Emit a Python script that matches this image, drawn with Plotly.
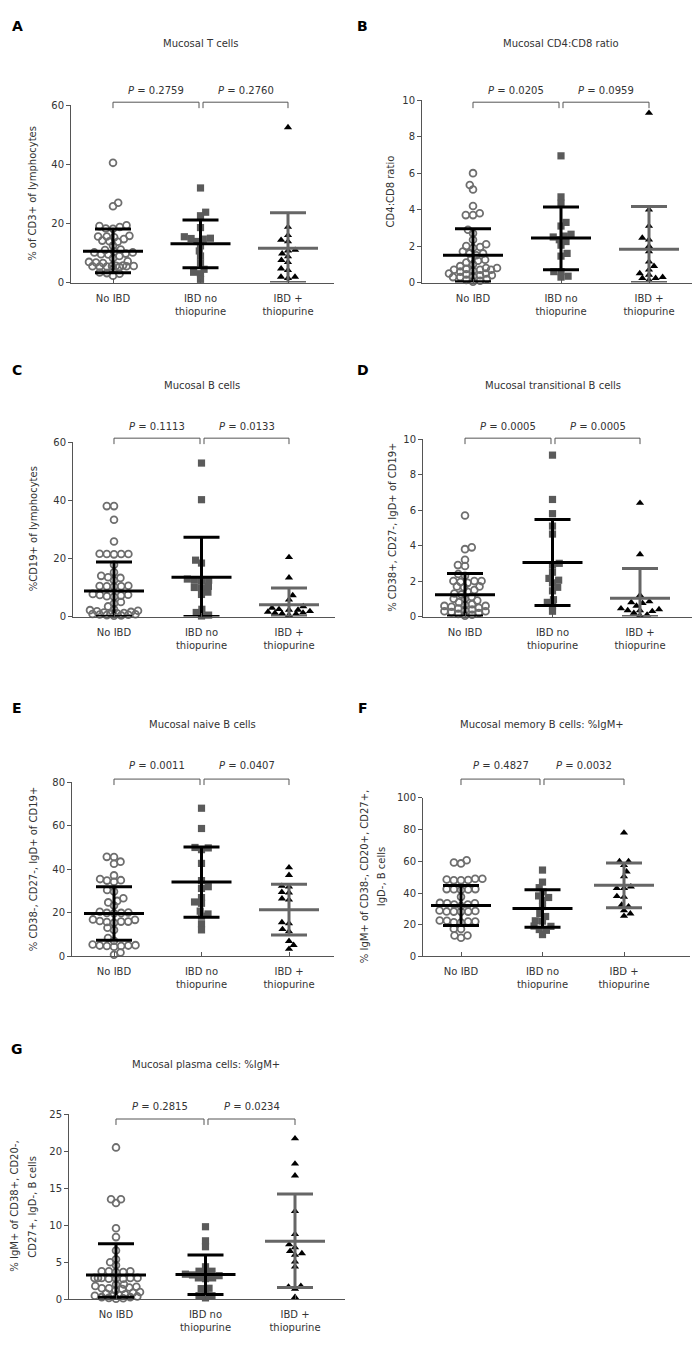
import math
import plotly.graph_objects as go

# ---------------- DATA ----------------
group_labels = ["No IBD", "IBD no<br>thiopurine", "IBD +<br>thiopurine"]

# A: Mucosal T cells (% of CD3+ of lymphocytes)
A_no_ibd = [40.5, 27, 25.8, 19.4, 18.8, 18.3, 18.2, 19.1, 15.8, 15.6, 14.7, 14, 13.8, 14.2, 15.3, 15.6,
            12.5, 11, 10.5, 10.2, 9.8, 9.6, 10.2, 9.5, 11.2, 8.2, 9, 7.2, 6.8, 6.6, 7, 5.8, 5.6, 5.5, 5.4,
            5.3, 5.4, 5.5, 5.6, 5.7, 4.5, 3.4, 3, 2.3, 3.2]
A_ibd_no_thio = [32, 23.8, 22.6, 18.6, 15.5, 15, 14.7, 14.9, 13.9, 12.4, 10.7, 9, 6.7, 4.5, 3.5, 3, 1.1]
A_ibd_thio = [52.5, 18.8, 16, 14.4, 13.9, 11, 10.8, 9.8, 8.8, 7.6, 6.9, 4.7, 4.2, 1.9, 1.5, 1.9]
A_mean = [10.6, 13.1, 11.6]
A_hi = [18.1, 21.2, 23.6]
A_lo = [3.3, 5.0, 0.0]
A_p = ["0.2759", "0.2760"]

# B: Mucosal CD4:CD8 ratio
B_no_ibd = [6.0, 5.35, 5.1, 4.2, 3.8, 3.7, 3.7, 2.9, 2.7, 2.35, 2.1, 2.0, 1.95, 1.9, 1.7, 1.6, 1.6, 1.5,
            1.3, 1.2, 1.25, 1.1, 1.0, 0.9, 0.8, 0.7, 0.7, 0.75, 0.65, 0.7, 0.8, 0.6, 0.5, 0.45, 0.4, 0.35,
            0.3, 0.3, 0.2, 0.15, 0.1, 0.05, 0.4, 0.5]
B_ibd_no_thio = [6.95, 4.7, 4.35, 3.3, 3.1, 2.65, 2.5, 2.55, 2.25, 2.35, 2.05, 1.6, 1.45, 0.6, 0.6, 0.3, 0.35]
B_ibd_thio = [9.3, 4.0, 3.1, 2.45, 2.35, 2.0, 1.7, 1.15, 0.9, 0.7, 0.42, 0.24, 0.13, 0.24, 0.3, 0.5]
B_mean = [1.5, 2.45, 1.83]
B_hi = [2.95, 4.15, 4.17]
B_lo = [0.05, 0.7, 0.0]
B_p = ["0.0205", "0.0959"]

# C: Mucosal B cells (%CD19+ of lymphocytes)
C_no_ibd = [38, 38, 33.3, 25.8, 21.5, 21.5, 21.5, 21.6, 21.4, 17.8, 15.2, 14, 13.3, 13.5, 12.5, 10.5,
            10.4, 10.3, 10.6, 10.4, 7.8, 7.5, 7.2, 7, 6.8, 7.4, 5, 4.5, 3.5, 2.5, 2.2, 2.0, 1.8, 1.6, 1.4,
            1.2, 1.1, 1.0, 0.9, 0.8, 0.7, 0.6, 0.5, 0.4, 0.3]
C_ibd_no_thio = [52.8, 40.2, 19.4, 18.4, 12.9, 12.5, 12.3, 12.5, 10.4, 10, 9.9, 8.4, 7.6, 2.5, 1.4, 0.5, 0.2]
C_ibd_thio = [20.4, 13.4, 7.3, 5.8, 3.5, 3.0, 2.5, 2.3, 1.6, 1.2, 0.9, 1.0, 1.3, 1.8, 2.3, 0.5]
C_mean = [8.75, 13.5, 4.1]
C_hi = [18.75, 27.3, 9.8]
C_lo = [0.0, 0.0, 0.0]
C_p = ["0.1113", "0.0133"]

# D: Mucosal transitional B cells
D_no_ibd = [5.7, 3.9, 3.8, 3.2, 2.9, 2.85, 2.4, 2.3, 2.0, 2.0, 1.95, 2.0, 1.9, 1.7, 1.65, 1.7, 1.5, 1.4,
            1.3, 1.25, 1.1, 1.0, 1.0, 0.9, 0.8, 0.7, 0.65, 0.6, 0.6, 0.55, 0.5, 0.45, 0.4, 0.35, 0.3,
            0.3, 0.25, 0.2, 0.15, 0.1, 0.05]
D_ibd_no_thio = [9.1, 6.6, 5.8, 5.1, 4.65, 3.0, 2.9, 2.5, 2.15, 2.05, 1.9, 1.65, 1.45, 0.95, 0.8, 0.6, 0.3]
D_ibd_thio = [6.4, 3.5, 1.2, 0.85, 0.8, 0.75, 0.6, 0.45, 0.35, 0.2, 0.1, 0.3, 0.4, 0.35, 0.05]
D_mean = [1.23, 3.05, 1.03]
D_hi = [2.43, 5.47, 2.71]
D_lo = [0.03, 0.63, 0.0]
D_p = ["0.0005", "0.0005"]

# E: Mucosal naive B cells
E_no_ibd = [45.6, 45.7, 43.5, 42.5, 37.2, 35.5, 35, 34.8, 34.3, 30.5, 29.8, 26.7, 25.5, 24.8, 23.4, 20.5,
            20, 20, 19.8, 20.2, 17, 16.8, 16, 15.5, 15.8, 16.3, 16, 13.2, 12.2, 8.5, 7.2, 5.5, 5, 4.8,
            4.5, 4.8, 5, 5.2, 1.8, 0.8]
E_ibd_no_thio = [68, 58.7, 50, 49, 49.8, 42.7, 34.8, 32, 31.2, 27, 25, 24.4, 20.8, 19.5, 15, 12.2, 18.5]
E_ibd_thio = [40.8, 37.3, 32.3, 32.0, 29.5, 29.3, 26.5, 26.0, 15.6, 15.2, 12.5, 11.5, 7.0, 5.2, 3.4]
E_mean = [19.75, 34.2, 21.4]
E_hi = [32.0, 50.2, 33.1]
E_lo = [7.5, 18.0, 9.8]
E_p = ["0.0011", "0.0407"]

# F: Mucosal memory B cells: %IgM+
F_no_ibd = [60.7, 59.3, 58.7, 48.2, 48, 49, 48.5, 49, 48, 42.5, 42, 42.4, 37.6, 42.5, 42.2, 33.8, 32.8,
            33.5, 31.8, 32.8, 33.5, 28.7, 28.3, 29, 28.3, 28.3, 28.4, 22.5, 22, 21.4, 22.7, 22, 21.6,
            17.5, 17.4, 13.2, 11.8, 13.2]
F_ibd_no_thio = [54.5, 46.9, 43.4, 40.7, 38.2, 37.2, 35.5, 31.5, 27.1, 25.2, 22.5, 22.3, 19, 19.2, 17, 16.5, 13.8]
F_ibd_thio = [78, 60, 60, 57.5, 53.5, 50.5, 44, 43, 43, 38, 37.5, 32.5, 31.5, 29, 27, 25.5]
F_mean = [32.2, 30.3, 45.0]
F_hi = [44.8, 42.1, 58.9]
F_lo = [19.6, 18.4, 30.8]
F_p = ["0.4827", "0.0032"]

# G: Mucosal plasma cells: %IgM+
G_no_ibd = [20.5, 13.5, 13.0, 13.5, 9.6, 8.4, 6.6, 5.4, 5.0, 4.6, 3.8, 3.7, 3.8, 3.7, 3.8, 2.9, 2.8, 2.9,
            2.8, 2.9, 2.8, 2.9, 2.9, 2.0, 1.7, 1.5, 1.4, 1.6, 1.5, 1.8, 2.0, 1.2, 1.0, 0.9, 0.8, 0.7, 0.6,
            0.5, 0.4, 0.3, 0.2, 0.15, 0.1, 0.5, 0.3]
G_ibd_no_thio = [9.8, 7.9, 7.1, 4.4, 3.8, 3.8, 3.5, 3.3, 3.4, 3.2, 2.9, 2.9, 2.8, 1.5, 1.45, 0.9, 0.5, 0.5, 0.2]
G_ibd_thio = [21.7, 18.3, 16.7, 11.9, 8.8, 7.4, 7.0, 6.5, 6.0, 6.2, 5.1, 4.4, 1.7, 1.8, 1.4, 0.3]
G_mean = [3.3, 3.35, 7.85]
G_hi = [7.5, 6.0, 14.2]
G_lo = [0.3, 0.66, 1.6]
G_p = ["0.2815", "0.0234"]

titles = ["Mucosal T cells", "Mucosal CD4:CD8 ratio", "Mucosal B cells", "Mucosal transitional B cells",
          "Mucosal naive B cells", "Mucosal memory B cells: %IgM+", "Mucosal plasma cells: %IgM+"]
y_titles = [["% of CD3+ of lymphocytes"], ["CD4:CD8 ratio"], ["%CD19+ of lymphocytes"],
            ["% CD38+, CD27-, IgD+ of CD19+"], ["% CD38-, CD27-, IgD+ of CD19+"],
            ["% IgM+ of CD38-, CD20+, CD27+,", "IgD-, B cells"],
            ["% IgM+ of CD38+, CD20-,", "CD27+, IgD-, B cells"]]
letters = ["A", "B", "C", "D", "E", "F", "G"]
y_max = [60, 10, 60, 10, 80, 100, 25]
y_dtick = [20, 2, 20, 2, 20, 20, 5]

data = [
    (A_no_ibd, A_ibd_no_thio, A_ibd_thio, A_mean, A_hi, A_lo, A_p),
    (B_no_ibd, B_ibd_no_thio, B_ibd_thio, B_mean, B_hi, B_lo, B_p),
    (C_no_ibd, C_ibd_no_thio, C_ibd_thio, C_mean, C_hi, C_lo, C_p),
    (D_no_ibd, D_ibd_no_thio, D_ibd_thio, D_mean, D_hi, D_lo, D_p),
    (E_no_ibd, E_ibd_no_thio, E_ibd_thio, E_mean, E_hi, E_lo, E_p),
    (F_no_ibd, F_ibd_no_thio, F_ibd_thio, F_mean, F_hi, F_lo, F_p),
    (G_no_ibd, G_ibd_no_thio, G_ibd_thio, G_mean, G_hi, G_lo, G_p),
]

# ---------------- LAYOUT (page pixels) ----------------
PAGE_W, PAGE_H = 700, 1348
OFF_X, OFF_Y = 8, 8          # default page body margin
W, H = PAGE_W - OFF_X, PAGE_H - OFF_Y
geom = [
    dict(x0=71, x1=334, ytop=100, ybot=279, cats=(113, 201, 288), title_y=38, letter=(17, 20),
         p_y=85, br_y=97, yt_x=[33]),
    dict(x0=422, x1=693, ytop=95, ybot=279, cats=(473, 561, 649), title_y=38, letter=(363, 20),
         p_y=85, br_y=97, yt_x=[390]),
    dict(x0=73, x1=335, ytop=440, ybot=616, cats=(114, 202, 289), title_y=383, letter=(17, 367),
         p_y=424, br_y=436, yt_x=[33]),
    dict(x0=423, x1=693, ytop=437, ybot=616, cats=(465, 553, 640), title_y=383, letter=(363, 367),
         p_y=424, br_y=436, yt_x=[393]),
    dict(x0=72, x1=334, ytop=783, ybot=959, cats=(114, 202, 289), title_y=725, letter=(17, 708),
         p_y=766, br_y=780, yt_x=[33]),
    dict(x0=423, x1=690, ytop=799, ybot=959, cats=(461, 542, 624), title_y=725, letter=(363, 708),
         p_y=766, br_y=780, yt_x=[364, 381]),
    dict(x0=69, x1=345, ytop=1118, ybot=1305, cats=(116, 206, 295), title_y=1068, letter=(17, 1052),
         p_y=1110, br_y=1123, yt_x=[15, 33]),
]

FONT = "DejaVu Sans"
TXT = "#333333"
AXC = "#555555"


def px(x):
    return (x - OFF_X) / W


def py(y):
    return 1 - (y - OFF_Y) / H


def swarm(values, ppu, D, k=1.4, maxw=24.0):
    """Beeswarm offsets in pixels, limited to +-maxw (points overlap when crowded)."""
    n = len(values)
    order = sorted(range(n), key=lambda i: values[i])
    placed = []
    xs = [0.0] * n

    def dist2(c, y):
        return min(((c - qx) ** 2 + ((y - qy) * k) ** 2 for qx, qy in placed), default=1e9)

    for i in order:
        y = values[i] * ppu
        cands = [0.0]
        for (qx, qy) in placed:
            dy = abs(y - qy) * k
            if dy < D:
                dx = math.sqrt(D * D - dy * dy)
                cands += [qx - dx, qx + dx]
        flip = len(placed) % 2
        cands = [c for c in cands if abs(c) <= maxw + 1e-9]
        cands.sort(key=lambda c: (round(abs(c), 6), -c if flip else c))
        chosen = None
        for c in cands:
            if dist2(c, y) >= D * D - 1e-6:
                chosen = c
                break
        if chosen is None:
            best, bestd = 0.0, -1.0
            steps = int(maxw * 2) + 1
            for s in range(steps):
                c = -maxw + s * (2 * maxw / (steps - 1))
                dd = dist2(c, y)
                if dd > bestd + 1e-9:
                    best, bestd = c, dd
            chosen = best
        xs[i] = chosen
        placed.append((chosen, y))
    return xs


marker_styles = [
    dict(symbol="circle-open", size=6.8, color="#6e6e6e", line=dict(width=1.8, color="#6e6e6e")),
    dict(symbol="square", size=7.2, color="#5a5a5a", line=dict(width=0)),
    dict(symbol="triangle-up", size=7.2, color="#000000", line=dict(width=0)),
]
line_colors = ["#000000", "#000000", "#666666"]
swarm_width = [24, 21, 22]

fig = go.Figure()
annotations = []
shapes = []

for k, (g, d) in enumerate(zip(geom, data)):
    idx = "" if k == 0 else str(k + 1)
    xa, ya = "x" + idx, "y" + idx
    c0, c1, c2 = g["cats"]
    spacing = (c2 - c0) / 2.0
    xr = [(g["x0"] - c0) / spacing, (g["x1"] - c0) / spacing]
    ppu = (g["ybot"] - g["ytop"]) / y_max[k]
    groups = d[:3]
    means, his, los, pvals = d[3], d[4], d[5], d[6]

    for j, vals in enumerate(groups):
        offs = swarm(vals, ppu, 7.2, maxw=swarm_width[j])
        fig.add_trace(go.Scatter(
            x=[j + o / spacing for o in offs], y=vals, mode="markers",
            marker=marker_styles[j], xaxis=xa, yaxis=ya, cliponaxis=False,
            hoverinfo="skip", showlegend=False))
    for j in range(3):
        mw = 30 / spacing
        cw = 18 / spacing
        lx = [j - mw, j + mw, None, j - cw, j + cw, None, j - cw, j + cw, None, j, j]
        ly = [means[j], means[j], None, his[j], his[j], None, los[j], los[j], None, los[j], his[j]]
        fig.add_trace(go.Scatter(
            x=lx, y=ly, mode="lines", line=dict(color=line_colors[j], width=3),
            xaxis=xa, yaxis=ya, cliponaxis=False, hoverinfo="skip", showlegend=False))

    xdom = [px(g["x0"]), px(g["x1"])]
    ydom = [py(g["ybot"]), py(g["ytop"])]
    fig.update_layout(**{
        ("xaxis" + idx): dict(domain=xdom, range=xr, anchor=ya, showgrid=False, zeroline=False,
                              showline=True, linecolor=AXC, linewidth=1, ticks="inside", ticklen=4,
                              tickcolor=AXC, tickvals=[0, 1, 2], ticktext=group_labels,
                              ticklabelstandoff=6,
                              tickfont=dict(family=FONT, size=10, color=TXT), fixedrange=True),
        ("yaxis" + idx): dict(domain=ydom, range=[0, y_max[k]], anchor=xa, showgrid=False,
                              zeroline=False, showline=True, linecolor=AXC, linewidth=1,
                              ticks="outside", ticklen=4, tickcolor=AXC, dtick=y_dtick[k], tick0=0,
                              tickfont=dict(family=FONT, size=10, color=TXT), fixedrange=True),
    })

    annotations.append(dict(x=px(g["letter"][0]), y=py(g["letter"][1]), xref="paper", yref="paper",
                            text="<b>%s</b>" % letters[k], showarrow=False, xanchor="center",
                            yanchor="middle", font=dict(family="DejaVu Sans", size=14, color="#000")))
    annotations.append(dict(x=px(c1), y=py(g["title_y"]), xref="paper", yref="paper", text=titles[k],
                            showarrow=False, xanchor="center", yanchor="middle",
                            font=dict(family=FONT, size=10, color=TXT)))
    lines = y_titles[k]
    for li, t in enumerate(lines):
        annotations.append(dict(x=px(g["yt_x"][li]), y=py((g["ytop"] + g["ybot"]) / 2), xref="paper",
                                yref="paper", text=t, textangle=-90, showarrow=False,
                                xanchor="center", yanchor="middle",
                                font=dict(family=FONT, size=10, color=TXT)))
    pairs = [(c0, c1 - 2), (c1 + 2, c2)]
    for (bx0, bx1), pv in zip(pairs, pvals):
        yb = g["br_y"]
        shapes.append(dict(type="path", xref="paper", yref="paper",
                           path="M %f %f L %f %f L %f %f L %f %f" % (
                               px(bx0), py(yb + 6), px(bx0), py(yb), px(bx1), py(yb), px(bx1), py(yb + 6)),
                           line=dict(color="#555555", width=1)))
        annotations.append(dict(x=px((bx0 + bx1) / 2), y=py(g["p_y"]), xref="paper", yref="paper",
                                text="<i>P</i> = " + pv, showarrow=False, xanchor="center",
                                yanchor="middle", font=dict(family=FONT, size=10, color=TXT)))

fig.update_layout(width=W, height=H, margin=dict(l=0, r=0, t=0, b=0), showlegend=False,
                  paper_bgcolor="white", plot_bgcolor="white",
                  annotations=annotations, shapes=shapes)

fig.write_html("out.html")
